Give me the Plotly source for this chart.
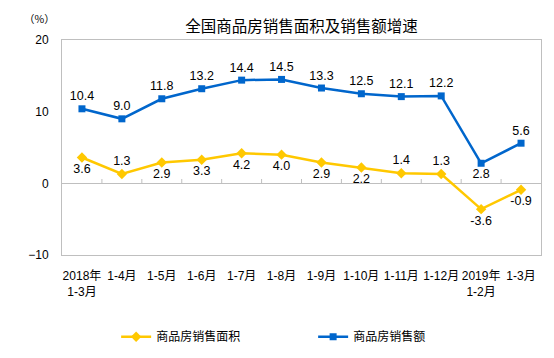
import plotly.graph_objects as go

categories = ["2018年<br>1-3月", "1-4月", "1-5月", "1-6月", "1-7月", "1-8月",
              "1-9月", "1-10月", "1-11月", "1-12月", "2019年<br>1-2月", "1-3月"]
area_growth = [3.6, 1.3, 2.9, 3.3, 4.2, 4.0, 2.9, 2.2, 1.4, 1.3, -3.6, -0.9]
sales_growth = [10.4, 9.0, 11.8, 13.2, 14.4, 14.5, 13.3, 12.5, 12.1, 12.2, 2.8, 5.6]
area_name = "商品房销售面积"
sales_name = "商品房销售额"
y_ticks = [-10, 0, 10, 20]

area_pos = ["bottom center", "top center", "bottom center", "bottom center", "bottom center",
            "bottom center", "bottom center", "bottom center", "top center", "top center",
            "bottom center", "bottom center"]
sales_pos = ["top center"] * 10 + ["bottom center", "top center"]

YELLOW = "#FFC800"
BLUE = "#0066CC"
FONT = "Liberation Sans, Noto Sans CJK SC, sans-serif"
CJK = "Noto Sans CJK SC, Liberation Sans, sans-serif"

xs = list(range(len(categories)))

fig = go.Figure()
fig.add_trace(go.Scatter(
    x=xs, y=area_growth, name=area_name, mode="lines+markers+text",
    line=dict(color=YELLOW, width=2.5),
    marker=dict(symbol="diamond", size=8, color=YELLOW),
    text=[f"{v:.1f}" for v in area_growth], textposition=area_pos,
    textfont=dict(family=FONT, size=12.5, color="#000"), cliponaxis=False,
))
fig.add_trace(go.Scatter(
    x=xs, y=sales_growth, name=sales_name, mode="lines+markers+text",
    line=dict(color=BLUE, width=2.5),
    marker=dict(symbol="square", size=7, color=BLUE),
    text=[f"{v:.1f}" for v in sales_growth], textposition=sales_pos,
    textfont=dict(family=FONT, size=12.5, color="#000"), cliponaxis=False,
))

# small category boundary ticks on the zero line
for i in range(1, len(categories)):
    fig.add_shape(type="line", x0=i - 0.5, x1=i - 0.5, y0=0, y1=0.6,
                  xref="x", yref="y", line=dict(color="#BFBFBF", width=1))

fig.update_layout(
    width=554, height=358,
    margin=dict(l=62, r=13, t=40, b=103, autoexpand=False),
    paper_bgcolor="white", plot_bgcolor="white",
    title=dict(text="全国商品房销售面积及销售额增速", x=0.5, xref="paper", xanchor="center",
               y=0.927, yanchor="middle", font=dict(family=CJK, size=15.5, color="#000")),
    showlegend=True,
    legend=dict(orientation="h", x=0.113, xanchor="left", y=-0.38, yanchor="middle",
                font=dict(family=CJK, size=12, color="#000"), entrywidth=152,
                itemwidth=30),
    font=dict(family=FONT, size=12, color="#000"),
)
fig.update_xaxes(
    range=[-0.5, len(categories) - 0.5], tickvals=xs, ticktext=categories,
    showgrid=False, zeroline=False, showline=True, mirror=True,
    linecolor="#BFBFBF", linewidth=1, ticks="", ticklabelstandoff=10,
    tickfont=dict(family=FONT, size=12, color="#000"),
)
fig.update_yaxes(
    range=[-10, 20], tickvals=y_ticks, showgrid=False,
    zeroline=True, zerolinecolor="#BFBFBF", zerolinewidth=1,
    showline=True, mirror=True, linecolor="#BFBFBF", linewidth=1,
    ticks="", ticklabelstandoff=10, tickfont=dict(family=FONT, size=12, color="#000"),
)
fig.add_annotation(text="（%）", xref="paper", yref="paper", x=-0.046, y=1.1,
                   xanchor="center", yanchor="middle", showarrow=False,
                   font=dict(family=CJK, size=10.5, color="#000"))

fig.write_html("out.html", config={"displayModeBar": False},
               post_script="document.body.style.margin='0';")
